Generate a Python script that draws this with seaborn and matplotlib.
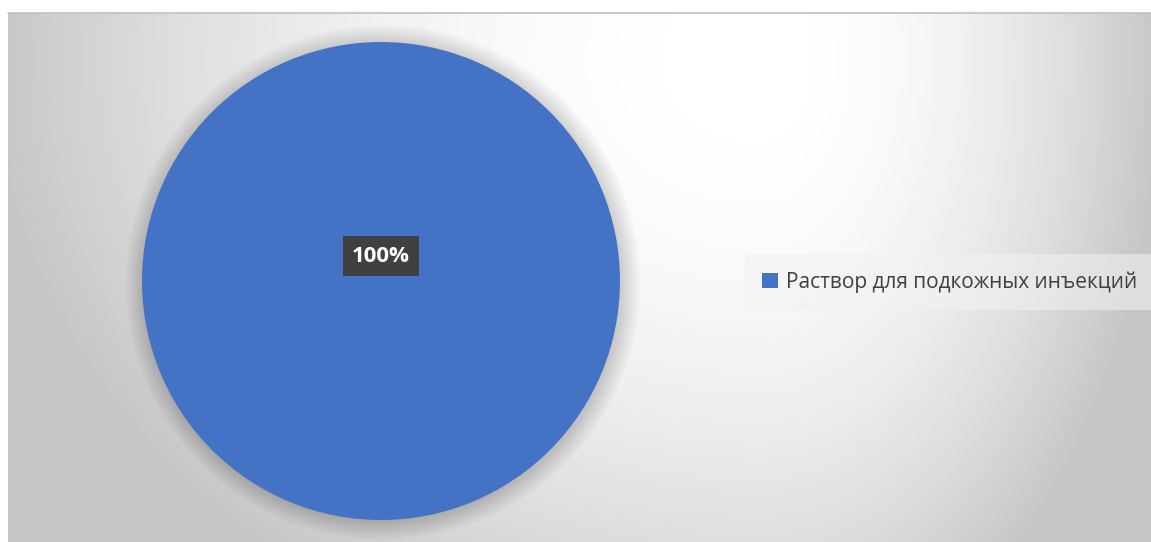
import numpy as np
import matplotlib
matplotlib.use("Agg")
import matplotlib.pyplot as plt
import seaborn as sns
from matplotlib.patches import Circle

sns.set_theme(style="white")
plt.rcParams['font.family'] = ['Open Sans', 'DejaVu Sans']

categories = ["Раствор для подкожных инъекций"]
values = [100]
pct_labels = ["100%"]
colors = ["#4472C4"]

W, H = 1151, 542
fig = plt.figure(figsize=(W / 100, H / 100), dpi=100)
fig.patch.set_facecolor("white")

# Background gradient panel
bx0, by_top = 8, 13
bg = fig.add_axes([bx0 / W, 0, (W - bx0) / W, (H - by_top) / H])
xs = np.arange(bx0, W)
ys = np.arange(by_top, H)
X, Y = np.meshgrid(xs, ys)
cx, cy = 760, 60
nx = np.where(X < cx, (cx - X) / (cx - bx0), (X - cx) / (W - cx))
ny = (Y - cy) / 620.0
d2 = nx ** 2 + ny ** 2
g = np.clip(255 - 55 * d2, 198, 255) / 255.0
bg.imshow(g, cmap="gray", vmin=0, vmax=1, aspect="auto", interpolation="bilinear")
bg.axis("off")
fig.add_artist(plt.Line2D([bx0 / W, 1], [(H - by_top) / H] * 2, color="#c0c0c0", lw=1.2))

# Pie axes
pcx, pcy, r = 381, 281, 239
ax = fig.add_axes([(pcx - r) / W, (H - pcy - r) / H, 2 * r / W, 2 * r / H])
ax.set_xlim(-1, 1)
ax.set_ylim(-1, 1)
ax.set_aspect("equal")
ax.axis("off")
ax.patch.set_alpha(0)

# soft shadow
for i in range(14):
    ax.add_patch(Circle((0.008, -0.006), 1.0 + i * 0.006, color="black",
                        alpha=0.010, lw=0, zorder=0, clip_on=False))

wedges, _ = ax.pie(values, colors=colors, startangle=90, radius=1.0,
                   wedgeprops=dict(linewidth=0), frame=False)
for w in wedges:
    w.set_zorder(2)
ax.set_xlim(-1, 1)
ax.set_ylim(-1, 1)

# data label
ly = (281 - 256) / r
ax.text(0, ly, pct_labels[0], ha="center", va="center", color="white",
        fontsize=16, fontweight="bold", zorder=5,
        bbox=dict(boxstyle="square,pad=0.42", fc="#404040", ec="none"))

# legend
leg = fig.legend(wedges, categories, loc="center left",
                 bbox_to_anchor=(751 / W, (H - 282) / H),
                 frameon=True, fontsize=15, handlelength=0.75, handleheight=0.75,
                 handletextpad=0.4, borderpad=0.55, borderaxespad=0,
                 labelcolor="#404040")
leg.get_frame().set_facecolor("#f2f2f2")
leg.get_frame().set_alpha(0.55)
leg.get_frame().set_edgecolor("none")
leg.get_frame().set_boxstyle("square")

fig.savefig("out.png", dpi=100)
